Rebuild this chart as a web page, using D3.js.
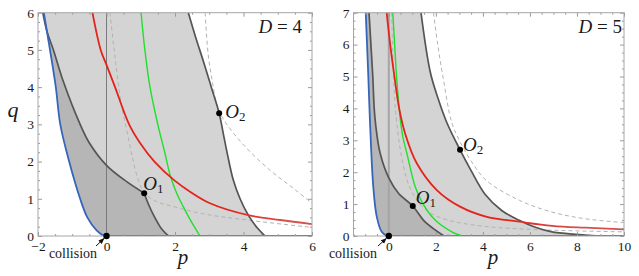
<!DOCTYPE html>
<html>
<head>
<meta charset="utf-8">
<script src="https://cdn.jsdelivr.net/npm/d3@7"></script>
<style>
  body { margin: 0; background: #fff; }
  svg { display: block; }
</style>
</head>
<body>
<svg id="chart" width="639" height="276"></svg>
<script>
'use strict';

var SERIF = 'Liberation Serif';

// ---- D = 4 panel ----
var pDomainD4 = [-2, 6];
var qDomainD4 = [0, 6];
var xTicksD4 = [-2, 0, 2, 4, 6];
var yTicksD4 = [0, 1, 2, 3, 4, 5, 6];

var blueD4 = [[-1.83, 6], [-1.65, 5], [-1.48, 4], [-1.35, 3], [-1.09, 2], [-0.77, 1],
  [-0.56, 0.5], [-0.29, 0.15], [-0.08, 0.01], [0, 0]];
var innerUpperD4 = [[-1.86, 6], [-1.74, 5.5], [-1.55, 5], [-1.26, 4.15], [-0.77, 3.0], [-0.5, 2.5],
  [0, 1.9], [0.59, 1.46], [1.1, 1.15]];
var innerLowerD4 = [[1.1, 1.15], [1.25, 0.8], [1.42, 0.48], [1.6, 0.2], [1.81, 0]];
var outerD4 = [[2.39, 6], [2.6, 5.35], [2.83, 4.69], [3.06, 4.0], [3.29, 3.3], [3.4, 2.8],
  [3.53, 2.2], [3.7, 1.51], [3.9, 1.0], [4.14, 0.56], [4.4, 0.22], [4.63, 0]];
var redD4 = [[-0.41, 6], [-0.17, 5], [0, 4.6], [0.25, 4], [0.66, 3], [0.98, 2.5], [1.4, 2],
  [2.0, 1.48], [2.44, 1.19], [3.02, 0.88], [4.14, 0.56], [5.07, 0.43], [6, 0.32]];
var greenD4 = [[1.01, 6], [1.12, 5], [1.27, 4], [1.49, 3.03], [1.7, 2.25], [1.87, 1.6],
  [2.05, 1.15], [2.24, 0.79], [2.48, 0.38], [2.73, 0]];
var dashInnerD4 = [[0.1, 6], [0.25, 4.8], [0.44, 3.5], [0.6, 2.8], [0.76, 2.1], [0.93, 1.5],
  [1.1, 1.17], [1.4, 0.95], [2.0, 0.78], [2.8, 0.6], [4.1, 0.43], [6, 0.23]];
var dashOuterD4 = [[2.88, 6], [2.97, 4.87], [3.1, 4.1], [3.22, 3.52], [3.41, 3.14], [4.0, 2.45],
  [4.77, 1.77], [5.5, 1.25], [6, 0.88]];
var pointsD4 = [{ sub: '1', p: 1.1, q: 1.15 }, { sub: '2', p: 3.29, q: 3.3 }];

// ---- D = 5 panel ----
var pDomainD5 = [-1.5, 10];
var qDomainD5 = [0, 7];
var xTicksD5 = [0, 2, 4, 6, 8, 10];
var yTicksD5 = [0, 1, 2, 3, 4, 5, 6, 7];

var blueD5 = [[-0.98, 7], [-0.87, 5], [-0.8, 3.6], [-0.66, 1.55], [-0.51, 0.6], [-0.3, 0.13],
  [-0.1, 0.01], [0, 0]];
var innerD5 = [[-0.84, 7], [-0.76, 6], [-0.68, 5], [-0.62, 4], [-0.56, 3.5], [-0.37, 2.6],
  [0, 1.82], [0.42, 1.33], [1.02, 0.94], [1.47, 0.5], [1.97, 0.19], [2.35, 0]];
var outerD5 = [[1.37, 7], [1.76, 5.15], [2.1, 4.3], [2.47, 3.55], [3.03, 2.7], [3.5, 2.05],
  [4.1, 1.3], [4.8, 0.8], [5.52, 0.5], [6.2, 0.28], [6.94, 0.13], [8.35, 0.03], [9.0, 0]];
var redD5 = [[-0.09, 7], [0.06, 6], [0.24, 5], [0.44, 4], [0.7, 3.2], [1.19, 2.28], [2.04, 1.44],
  [3.03, 0.92], [4.17, 0.6], [5.55, 0.45], [6.94, 0.32], [8.35, 0.26], [10, 0.21]];
var greenD5 = [[0.17, 7], [0.25, 6], [0.33, 5], [0.42, 4.2], [0.5, 3.6], [0.6, 3.1], [0.77, 2.59],
  [1.12, 1.55], [1.4, 1.08], [1.97, 0.5], [2.68, 0.13], [3.1, 0]];
var dashInnerD5 = [[0.12, 7], [0.18, 5.5], [0.25, 4.3], [0.33, 3.6], [0.45, 2.9], [0.62, 2.2],
  [0.85, 1.6], [1.2, 1.12], [1.7, 0.75], [2.5, 0.5], [4.1, 0.3], [6, 0.21], [8, 0.16], [10, 0.13]];
var dashOuterD5 = [[1.9, 7], [2.08, 6], [2.3, 5], [2.68, 3.55], [3.0, 3.0], [3.5, 2.35],
  [4.15, 1.74], [5.55, 1.12], [6.94, 0.75], [8.35, 0.54], [10, 0.42]];
var pointsD5 = [{ sub: '1', p: 1.02, q: 0.94 }, { sub: '2', p: 3.03, q: 2.7 }];

var svg = d3.select('#chart');
var defs = svg.append('defs');

var panels = [
  {
    id: 'D4', dim: '4', pDomain: pDomainD4, qDomain: qDomainD4, xTicks: xTicksD4, yTicks: yTicksD4,
    blue: blueD4, inner: [innerUpperD4, innerLowerD4], outer: outerD4, red: redD4, green: greenD4,
    dashes: [dashInnerD4, dashOuterD4], points: pointsD4,
    left: 38, right: 312, top: 12.7, bottom: 236,
    labelOffsets: [[-1, -3], [6, 5]], dimRight: 302, fade: [3.6, 5.2],
    zeroStroke: '#7a7a7a', zeroWidth: 1, collisionX: 73, arrowFrom: [96, 246],
    pLabelX: 183, qLabel: true
  },
  {
    id: 'D5', dim: '5', pDomain: pDomainD5, qDomain: qDomainD5, xTicks: xTicksD5, yTicks: yTicksD5,
    blue: blueD5, inner: [innerD5], outer: outerD5, red: redD5, green: greenD5,
    dashes: [dashInnerD5, dashOuterD5], points: pointsD5,
    left: 353.5, right: 624, top: 12.7, bottom: 236,
    labelOffsets: [[3, -2], [3, 1]], dimRight: 622, fade: [5, 8],
    zeroStroke: '#a5a5a5', zeroWidth: 2, collisionX: 353, arrowFrom: [378, 246],
    pLabelX: 493, qLabel: false
  }
];

// arrow head for the "collision" pointer
defs.append('marker')
  .attr('id', 'arrowhead')
  .attr('viewBox', '0 0 10 10')
  .attr('refX', 9).attr('refY', 5)
  .attr('markerWidth', 6).attr('markerHeight', 6)
  .attr('orient', 'auto')
  .append('path').attr('d', 'M0,1 L10,5 L0,9 Z').attr('fill', '#111');

panels.forEach(drawPanel);

function drawPanel(cfg) {
  var x = d3.scaleLinear().domain(cfg.pDomain).range([cfg.left, cfg.right]);
  var y = d3.scaleLinear().domain(cfg.qDomain).range([cfg.bottom, cfg.top]);
  var line = d3.line()
    .x(function(d) { return x(d[0]); })
    .y(function(d) { return y(d[1]); })
    .curve(d3.curveCatmullRom.alpha(0.5));

  function segPath(segs) {
    return segs.map(function(s, i) {
      var d = line(s);
      return i ? d.replace(/^M/, 'L') : d;
    }).join('');
  }
  function reversed(segs) {
    return segs.slice().reverse().map(function(s) { return s.slice().reverse(); });
  }

  defs.append('clipPath').attr('id', 'clip-' + cfg.id)
    .append('rect')
    .attr('x', cfg.left).attr('y', cfg.top)
    .attr('width', cfg.right - cfg.left).attr('height', cfg.bottom - cfg.top);

  var grad = defs.append('linearGradient')
    .attr('id', 'red-' + cfg.id)
    .attr('gradientUnits', 'userSpaceOnUse')
    .attr('x1', x(cfg.fade[0])).attr('x2', x(cfg.fade[1]))
    .attr('y1', 0).attr('y2', 0);
  grad.append('stop').attr('offset', 0).attr('stop-color', '#e4231a');
  grad.append('stop').attr('offset', 1).attr('stop-color', '#d4514d');

  var plot = svg.append('g').attr('clip-path', 'url(#clip-' + cfg.id + ')');

  // light region between the two dark boundaries
  plot.append('path')
    .attr('d', segPath(cfg.inner) + segPath(reversed([cfg.outer])).replace(/^M/, 'L') + 'Z')
    .attr('fill', '#d4d4d4');

  // darker region between the blue curve and the inner boundary
  plot.append('path')
    .attr('d', segPath([cfg.blue]) + segPath(reversed(cfg.inner)).replace(/^M/, 'L') + 'Z')
    .attr('fill', '#b6b6b6');

  // p = 0
  plot.append('line')
    .attr('x1', x(0)).attr('x2', x(0))
    .attr('y1', y(cfg.qDomain[0])).attr('y2', y(cfg.qDomain[1]))
    .attr('stroke', cfg.zeroStroke).attr('stroke-width', cfg.zeroWidth);

  plot.selectAll('path.dash')
    .data(cfg.dashes)
    .enter().append('path')
    .attr('class', 'dash')
    .attr('d', line)
    .attr('fill', 'none')
    .attr('stroke', '#b2b2b2')
    .attr('stroke-width', 1)
    .attr('stroke-dasharray', '4,3');

  plot.selectAll('path.bound')
    .data(cfg.inner.concat([cfg.outer]))
    .enter().append('path')
    .attr('class', 'bound')
    .attr('d', line)
    .attr('fill', 'none')
    .attr('stroke', '#555')
    .attr('stroke-width', 1.7);

  plot.append('path')
    .attr('d', line(cfg.green))
    .attr('fill', 'none')
    .attr('stroke', '#1fe02a')
    .attr('stroke-width', 1.4);

  plot.append('path')
    .attr('d', line(cfg.red))
    .attr('fill', 'none')
    .attr('stroke', 'url(#red-' + cfg.id + ')')
    .attr('stroke-width', 1.8);

  plot.append('path')
    .attr('d', line(cfg.blue))
    .attr('fill', 'none')
    .attr('stroke', '#3566bb')
    .attr('stroke-width', 1.8);

  plot.append('line')
    .attr('x1', x(0)).attr('x2', x(cfg.pDomain[1]))
    .attr('y1', y(0)).attr('y2', y(0))
    .attr('stroke', '#3566bb').attr('stroke-width', 2.2);

  // frame + ticks on all four sides
  var axes = svg.append('g').attr('class', 'axes');
  var minorX = d3.range(cfg.pDomain[0], cfg.pDomain[1] + 1e-9, 0.5)
    .filter(function(v) { return cfg.xTicks.indexOf(v) < 0; });
  var minorY = d3.range(cfg.qDomain[0], cfg.qDomain[1] + 1e-9, 0.25)
    .filter(function(v) { return cfg.yTicks.indexOf(v) < 0; });

  function addAxis(axisFn, scale, values, size, labelled, tx, ty, pad) {
    var a = axisFn(scale).tickValues(values).tickSize(-size).tickPadding(pad || 4)
      .tickFormat(labelled ? d3.format('d') : '');
    var gA = axes.append('g').attr('transform', 'translate(' + tx + ',' + ty + ')').call(a);
    gA.attr('font-family', SERIF).attr('font-size', 13.5);
    gA.select('.domain').remove();
    gA.selectAll('line').attr('stroke', '#9a9a9a');
    gA.selectAll('text').attr('fill', '#1a1a1a');
    return gA;
  }
  addAxis(d3.axisBottom, x, cfg.xTicks, 4, true, 0, cfg.bottom, 5);
  addAxis(d3.axisBottom, x, minorX, 2, false, 0, cfg.bottom);
  addAxis(d3.axisTop, x, cfg.xTicks, 4, false, 0, cfg.top);
  addAxis(d3.axisTop, x, minorX, 2, false, 0, cfg.top);
  addAxis(d3.axisLeft, y, cfg.yTicks, 4, true, cfg.left, 0, 4);
  addAxis(d3.axisLeft, y, minorY, 2, false, cfg.left, 0);
  addAxis(d3.axisRight, y, cfg.yTicks, 4, false, cfg.right, 0);
  addAxis(d3.axisRight, y, minorY, 2, false, cfg.right, 0);

  axes.append('rect')
    .attr('x', cfg.left).attr('y', cfg.top)
    .attr('width', cfg.right - cfg.left).attr('height', cfg.bottom - cfg.top)
    .attr('fill', 'none').attr('stroke', '#a6a6a6').attr('stroke-width', 1);

  // special points
  var marks = svg.append('g').attr('font-family', SERIF).attr('fill', '#1a1a1a');
  marks.append('circle')
    .attr('cx', x(0)).attr('cy', y(0)).attr('r', 3.2).attr('fill', '#000');
  cfg.points.forEach(function(pt, i) {
    marks.append('circle')
      .attr('cx', x(pt.p)).attr('cy', y(pt.q)).attr('r', 3).attr('fill', '#000');
    var off = cfg.labelOffsets[i];
    var t = marks.append('text')
      .attr('x', x(pt.p) + off[0]).attr('y', y(pt.q) + off[1])
      .attr('font-size', 19);
    t.append('tspan').attr('font-style', 'italic').text('O');
    t.append('tspan').attr('font-size', 13).attr('dy', 3).text(pt.sub);
  });

  // D label
  var dl = marks.append('text')
    .attr('x', cfg.dimRight).attr('y', 33)
    .attr('text-anchor', 'end').attr('font-size', 19);
  dl.append('tspan').attr('font-style', 'italic').text('D');
  dl.append('tspan').text(' = ' + cfg.dim);

  // collision pointer
  marks.append('text')
    .attr('x', cfg.collisionX).attr('y', 258)
    .attr('text-anchor', 'middle').attr('font-size', 14)
    .text('collision');
  marks.append('line')
    .attr('x1', cfg.arrowFrom[0]).attr('y1', cfg.arrowFrom[1])
    .attr('x2', x(0) - 2.5).attr('y2', y(0) + 2.5)
    .attr('stroke', '#111').attr('stroke-width', 1)
    .attr('marker-end', 'url(#arrowhead)');

  // axis titles
  marks.append('text')
    .attr('x', cfg.pLabelX).attr('y', 264)
    .attr('text-anchor', 'middle').attr('font-size', 21).attr('font-style', 'italic')
    .text('p');
  if (cfg.qLabel) {
    marks.append('text')
      .attr('x', 13).attr('y', 117)
      .attr('text-anchor', 'middle').attr('font-size', 22).attr('font-style', 'italic')
      .text('q');
  }
}
</script>
</body>
</html>
